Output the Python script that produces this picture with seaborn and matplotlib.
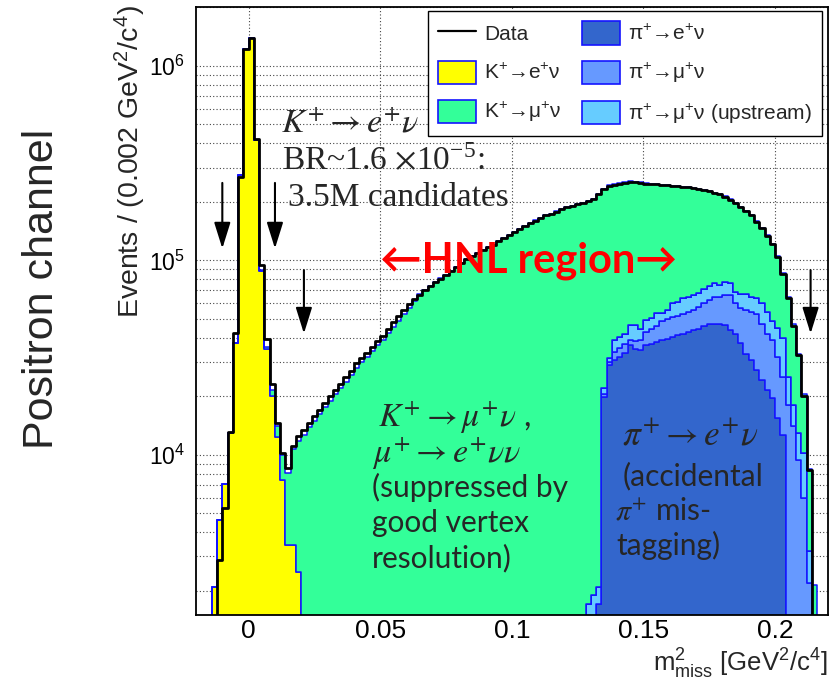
import numpy as np
import pandas as pd
import matplotlib
matplotlib.use("Agg")
import matplotlib.pyplot as plt
import seaborn as sns
from matplotlib.patches import Patch
from matplotlib.lines import Line2D
from matplotlib.ticker import MultipleLocator, LogLocator, NullFormatter, FuncFormatter

# ---- binning of the missing-mass-squared histogram (GeV^2/c^4) ----
x_min, x_max, bin_width = -0.02, 0.22, 0.002
n_bins = 120

# ---- observed events per bin ----
data_counts = ([0, 0, 0]
    + [1200, 2870, 5300, 13100, 42200, 269000, 1216000]
    + [1387000, 422000, 94600, 39500, 23200, 14600, 10200, 8600, 11100, 12500]
    + [13400, 14600, 15800, 17000, 18500, 20000, 21600, 23200, 25000, 27000]
    + [29500, 31500, 33500, 36000, 38500, 41000, 44500, 48000, 51500, 55500]
    + [59500, 63000, 66500, 70000, 73500, 77000, 80500, 84000, 88000, 92000]
    + [97000, 101000, 105000, 109000, 113000, 117000, 120000, 125000, 130000, 135000]
    + [140000, 145000, 150000, 155000, 160000, 165000, 170000, 174000, 178000, 183000]
    + [187000, 190000, 194000, 198000, 202000, 206000, 220000, 233000, 240000, 244000]
    + [247000, 250000, 253000, 252000, 250000, 248000, 247000, 246000, 244000, 243000]
    + [241000, 240000, 238000, 237000, 235000, 233000, 230000, 227000, 223000, 219000]
    + [212000, 205000, 197000, 188000, 180000, 170000, 158000, 146000, 134000, 121000]
    + [104000, 85000, 64000, 46000, 32500, 20000, 8400, 1000, 0, 0])

# ---- simulated components per bin ----
ke2 = ([0, 0, 0]
    + [2100, 4600, 7100, 13000, 37500, 276000, 1216000]
    + [1387000, 415000, 88000, 35000, 20000, 12400, 7400, 3450, 3450, 2500]
    + [0] * 100)

kmu2 = ([0] * 12
    + [800, 1000, 1500, 1600, 2600, 4600, 7200, 9300]
    + [12700, 13900, 15000, 16200, 17600, 19000, 20500, 22000, 23800, 25700]
    + [28000, 30000, 31900, 34200, 36600, 39000, 42300, 45600, 49000, 52700]
    + [56800, 62000, 66800, 70000, 73800, 77000, 80800, 84000, 88300, 92000]
    + [97300, 101000, 105300, 109000, 113400, 117000, 120500, 125000, 130500, 135000]
    + [140500, 145000, 150500, 155000, 160500, 165000, 170500, 174000, 178500, 183000]
    + [187500, 190000, 194500, 198000, 200300, 204100, 218000, 211000, 213700, 208100]
    + [209500, 210000, 208600, 207500, 207400, 199800, 197200, 193700, 191700, 187500]
    + [181000, 179200, 174000, 172200, 168500, 164900, 158500, 153200, 147000, 144000]
    + [136000, 129500, 128000, 121500, 112500, 106200, 94700, 86700, 80600, 73100]
    + [60100, 46300, 39800, 29000, 20000, 10300, 5300, 2150, 0, 0])

pienu = ([0] * 76
    + [1700]
    + [19900, 29000, 30700, 31900, 33200, 36600, 35000, 34500, 36600, 37000]
    + [38000, 38900, 39500, 40500, 41200, 42000, 42900, 44000, 44600, 46000]
    + [47300, 47300, 47300, 46400, 44000, 42000, 37400, 33000, 30700, 27300]
    + [24300, 21600, 19500, 15400, 12700]
    + [0] * 8)

pimunu = ([0] * 77
    + [600, 1000, 3100, 3600, 3800, 2500, 3500, 4500, 6000, 7600]
    + [8000, 9600, 10500, 10700, 10800, 11000, 11400, 11500, 13000, 14000]
    + [15000, 17500, 17700, 19800, 22200, 18000, 19600, 22600, 23800, 25700]
    + [23000, 20400, 19400, 16500, 12500, 18000, 14000, 9400, 6000, 2200]
    + [0, 0, 0])

pimunu_up = ([0] * 74
    + [1700, 1900, 400]
    + [1500, 1300, 5100, 5000, 5000, 7300, 8000, 5600, 6600, 6200]
    + [7300, 4800, 5500, 8800, 8800, 11000, 10500, 11000, 10500, 11500]
    + [11500, 11200, 10000, 10800, 10300, 9000, 10500, 11900, 10300, 11300]
    + [13000, 12400, 10000, 13000, 14500, 7200, 4000, 3600, 4200, 1000]
    + [0, 0, 0])

for series in (data_counts, ke2, kmu2, pienu, pimunu, pimunu_up):
    assert len(series) == n_bins

edges = np.linspace(x_min, x_max, n_bins + 1)
centers = edges[:-1] + bin_width / 2
bin_list = [float(e) for e in edges]

# labels and colours of the stacked components (top of stack first)
lab_kmu2 = "K$^{+}$\u2192\u03bc$^{+}$\u03bd"
lab_ke2 = "K$^{+}$\u2192e$^{+}$\u03bd"
lab_up = "\u03c0$^{+}$\u2192\u03bc$^{+}$\u03bd (upstream)"
lab_pimunu = "\u03c0$^{+}$\u2192\u03bc$^{+}$\u03bd"
lab_pienu = "\u03c0$^{+}$\u2192e$^{+}$\u03bd"

stack_order = [lab_kmu2, lab_ke2, lab_up, lab_pimunu, lab_pienu]
colors = {
    lab_kmu2: "#33ff99",
    lab_ke2: "#ffff00",
    lab_up: "#66ccff",
    lab_pimunu: "#6699ff",
    lab_pienu: "#3366cc",
}
values = {
    lab_kmu2: kmu2,
    lab_ke2: ke2,
    lab_up: pimunu_up,
    lab_pimunu: pimunu,
    lab_pienu: pienu,
}

mc = pd.concat(
    [pd.DataFrame({"m2": centers, "events": values[k], "source": k}) for k in stack_order],
    ignore_index=True,
)
obs = pd.DataFrame({"m2": centers, "events": data_counts})

# ---- style ----
sns.set_style("white")
plt.rcParams["font.family"] = ["Liberation Sans", "DejaVu Sans"]
plt.rcParams["mathtext.fontset"] = "custom"
plt.rcParams["mathtext.rm"] = "Liberation Sans"
plt.rcParams["mathtext.it"] = "Liberation Sans:italic"
plt.rcParams["mathtext.bf"] = "Liberation Sans:bold"

W, H = 833, 682
fig = plt.figure(figsize=(W / 100, H / 100), dpi=100)


def fx(px):
    return px / W


def fy(py):
    return 1 - py / H


ax = fig.add_axes([fx(196), fy(615), (827.7 - 196) / W, (615 - 7.3) / H])

EDGE_BLUE = "#1414ff"
sns.histplot(
    data=mc, x="m2", weights="events", hue="source", hue_order=stack_order,
    palette=colors, multiple="stack", bins=bin_list, element="step",
    edgecolor=EDGE_BLUE, linewidth=1.1, alpha=1, legend=False, ax=ax,
)
sns.histplot(
    data=obs, x="m2", weights="events", bins=bin_list, element="step", fill=False,
    color="black", linewidth=2.0, ax=ax,
)

ax.set_yscale("log")
ax.set_xlim(x_min, x_max)
ax.set_ylim(1500, 2.0e6)
ax.set_xlabel("")
ax.set_ylabel("")

# grid like the ROOT canvas
ax.set_axisbelow(True)
ax.grid(True, which="major", axis="x", ls=(0, (1, 2)), color="#444444", lw=0.8)
ax.grid(True, which="both", axis="y", ls=(0, (1, 2)), color="#444444", lw=0.8)

# ticks
ax.xaxis.set_major_locator(MultipleLocator(0.05))
ax.xaxis.set_minor_locator(MultipleLocator(0.01))
ax.xaxis.set_major_formatter(FuncFormatter(lambda v, p: "0" if abs(v) < 1e-9 else f"{v:g}"))
ax.yaxis.set_major_locator(LogLocator(base=10))
ax.yaxis.set_minor_locator(LogLocator(base=10, subs=np.arange(2, 10)))
ax.yaxis.set_minor_formatter(NullFormatter())
ax.tick_params(which="both", direction="in", top=False, right=False, colors="black")
ax.tick_params(which="major", length=13, width=1.1)
ax.tick_params(which="minor", length=6.5, width=1.0)
ax.tick_params(axis="x", which="major", pad=3, labelsize=19)
ax.tick_params(axis="y", which="major", pad=8, labelsize=16.5)
for s in ax.spines.values():
    s.set_color("black")
    s.set_linewidth(1.3)

# axis titles
fig.text(fx(828), fy(672), r"m$^{2}_{\mathregular{miss}}$ [GeV$^{2}$/c$^{4}$]", ha="right",
         va="baseline", fontsize=18.5)
fig.text(fx(148), fy(5), "Events / (0.002 GeV$^{2}$/c$^{4}$)", rotation=90,
         ha="right", va="top", fontsize=20.5)
fig.text(fx(42), fy(289), "Positron channel", rotation=90, ha="center",
         va="center", fontsize=31)

# legend
handles = [
    Line2D([], [], color="black", lw=1.6),
    Patch(facecolor=colors[lab_ke2], edgecolor=EDGE_BLUE, lw=1.2),
    Patch(facecolor=colors[lab_kmu2], edgecolor=EDGE_BLUE, lw=1.2),
    Patch(facecolor=colors[lab_pienu], edgecolor=EDGE_BLUE, lw=1.2),
    Patch(facecolor=colors[lab_pimunu], edgecolor=EDGE_BLUE, lw=1.2),
    Patch(facecolor=colors[lab_up], edgecolor=EDGE_BLUE, lw=1.2),
]
labels = ["Data", lab_ke2, lab_kmu2, lab_pienu, lab_pimunu, lab_up]
leg = ax.legend(
    handles, labels, ncol=2, loc="upper left",
    bbox_to_anchor=(fx(428), fy(11)), bbox_transform=fig.transFigure,
    frameon=True, fancybox=False, framealpha=1, edgecolor="black",
    fontsize=15, handlelength=1.8, handleheight=1.35, handletextpad=0.4,
    labelspacing=0.76, columnspacing=1.0, borderpad=0.5, borderaxespad=0,
)
leg.get_frame().set_linewidth(1.0)

# annotations (Cambria-like serif with italic math)
serif_math = dict(math_fontfamily="stix", family=["Liberation Serif", "DejaVu Serif"],
                  va="baseline")
fig.text(fx(281), fy(131), r"$K^{+}\rightarrow e^{+}\nu$", fontsize=24.5, **serif_math)
fig.text(fx(282), fy(170), r"BR~1.6 $\times$10$^{\mathregular{-5}}$:", fontsize=24, **serif_math)
fig.text(fx(288), fy(206), "3.5M candidates", fontsize=24, **serif_math)

fig.text(fx(380), fy(273), "\u2190HNL region\u2192", color="#ff0000", fontsize=30,
         fontweight="bold", va="baseline", family=["Lato", "DejaVu Sans"])

calibri = dict(family=["Lato", "DejaVu Sans"], math_fontfamily="stix", va="baseline")
fig.text(fx(378), fy(427), r"$K^{+}\rightarrow \mu^{+}\nu$ ,", fontsize=24, **calibri)
fig.text(fx(372), fy(462), r"$\mu^{+}\rightarrow e^{+}\nu\nu$", fontsize=24.5, **calibri)
fig.text(fx(372), fy(497), "(suppressed by", fontsize=21.5, **calibri)
fig.text(fx(372), fy(532), "good vertex", fontsize=21.5, **calibri)
fig.text(fx(372), fy(567), "resolution)", fontsize=21.5, **calibri)

fig.text(fx(622), fy(445), r"$\pi^{+}\rightarrow e^{+}\nu$", fontsize=25.5, **calibri)
fig.text(fx(623), fy(485), "(accidental", fontsize=21.5, **calibri)
fig.text(fx(615), fy(520), r"$\pi^{+}$ mis-", fontsize=21.5, **calibri)
fig.text(fx(616), fy(555), "tagging)", fontsize=21.5, **calibri)

# selection arrows
arrow_x = [-0.010, 0.010, 0.021, 0.2135]
arrow_tail = [2.5e5, 2.5e5, 8.9e4, 8.9e4]
arrow_tip = [1.15e5, 1.15e5, 4.2e4, 4.2e4]
for xa, yt, yh in zip(arrow_x, arrow_tail, arrow_tip):
    ax.annotate("", xy=(xa, yh), xytext=(xa, yt),
                arrowprops=dict(arrowstyle="-|>,head_length=0.8,head_width=0.25",
                                color="black", lw=1.5, mutation_scale=20,
                                shrinkA=0, shrinkB=0))

fig.savefig("out.png", dpi=100)
